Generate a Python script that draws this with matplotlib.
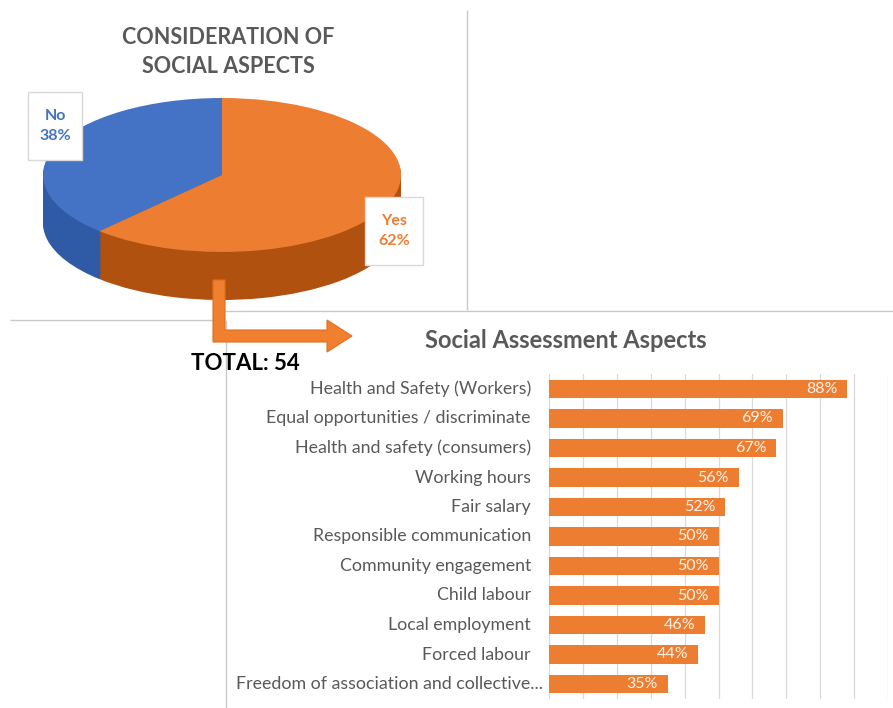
import matplotlib
matplotlib.use("Agg")
import matplotlib.pyplot as plt
from matplotlib.patches import Polygon, Rectangle
import numpy as np

plt.rcParams['font.family'] = ['Lato', 'DejaVu Sans']

# ---------------- data ----------------
pie_title = "CONSIDERATION OF\nSOCIAL ASPECTS"
pie_labels = ["No", "Yes"]
pie_values = [38, 62]
total_label = "TOTAL: 54"

bar_title = "Social Assessment Aspects"
bar_categories = [
    "Health and Safety (Workers)",
    "Equal opportunities / discriminate",
    "Health and safety (consumers)",
    "Working hours",
    "Fair salary",
    "Responsible communication",
    "Community engagement",
    "Child labour",
    "Local employment",
    "Forced labour",
    "Freedom of association and collective...",
]
bar_values = [88, 69, 67, 56, 52, 50, 50, 50, 46, 44, 35]

# ---------------- style ----------------
W, H = 893, 708
ORANGE = "#ED7D31"
BLUE = "#4472C4"
ORANGE_SIDE = "#B0510F"
BLUE_SIDE = "#2F5AA6"
GRAY_TXT = "#595959"
BORDER = "#C9C9C9"

fig = plt.figure(figsize=(W / 100, H / 100), dpi=100)


def fig_rect(left_px, top_px, width_px, height_px):
    return [left_px / W, 1 - (top_px + height_px) / H, width_px / W, height_px / H]


# background overlay (panel borders)
back = fig.add_axes([0, 0, 1, 1], zorder=0)
back.set_xlim(0, W)
back.set_ylim(H, 0)
back.axis('off')
for (x0, y0, x1, y1) in [(467, 10, 467, 310), (225, 311, 893, 311),
                         (10, 320, 213, 320), (226, 320, 226, 708)]:
    back.plot([x0, x1], [y0, y1], color=BORDER, lw=1.0, solid_capstyle='butt')

# ---------------- 3D-like pie ----------------
a_px, b_px = 179, 77
cx, cy = 222, 175
depth_px = 48
d = depth_px / b_px
xl = (-1.2, 1.2)
yl = (-1.0 - d - 0.15, 1.15)
left_px = cx + xl[0] * a_px
width_px = (xl[1] - xl[0]) * a_px
top_px = cy - yl[1] * b_px
height_px = (yl[1] - yl[0]) * b_px
axp = fig.add_axes(fig_rect(left_px, top_px, width_px, height_px), zorder=2)

N = 40
for k in range(N, 0, -1):
    s = d * k / N
    axp.pie(pie_values, colors=[BLUE_SIDE, ORANGE_SIDE], startangle=90,
            counterclock=True, center=(0, -s),
            wedgeprops=dict(linewidth=0))
axp.pie(pie_values, colors=[BLUE, ORANGE], startangle=90, counterclock=True,
        center=(0, 0), wedgeprops=dict(linewidth=0))
axp.set_aspect('auto')
axp.set_xlim(xl)
axp.set_ylim(yl)
axp.axis('off')

# ---------------- front overlay (titles, labels, arrow) ----------------
front = fig.add_axes([0, 0, 1, 1], zorder=5)
front.set_xlim(0, W)
front.set_ylim(H, 0)
front.axis('off')

front.text(228, 52, pie_title, ha='center', va='center', fontsize=15.5,
           fontweight='bold', color=GRAY_TXT, linespacing=1.45)

label_boxes = [(28, 92, 54, 68, BLUE), (365, 197, 58, 68, ORANGE)]
for (bx, by, bw, bh, col), lab, val in zip(label_boxes, pie_labels, pie_values):
    front.add_patch(Rectangle((bx, by), bw, bh, facecolor='white',
                              edgecolor='#D9D9D9', lw=1.0))
    front.text(bx + bw / 2, by + bh / 2, f"{lab}\n{val}%", ha='center',
               va='center', fontsize=11.5, fontweight='bold', color=col,
               linespacing=1.5)

arrow_pts = [(213, 280), (225, 280), (225, 330), (327, 330), (327, 320),
             (352, 336), (327, 352), (327, 342), (213, 342)]
front.add_patch(Polygon(arrow_pts, closed=True, facecolor="#F0802F",
                        edgecolor="#E06E1E", lw=0.8))

front.text(191, 364, total_label, ha='left', va='center', fontsize=16,
           fontweight='bold', color='black')

front.text(566, 340, bar_title, ha='center', va='center', fontsize=17,
           fontweight='bold', color=GRAY_TXT)

# ---------------- bar chart ----------------
ax_l, ax_r = 549, 888
row = 29.5
first_c = 389
n = len(bar_values)
ax_top = first_c - row / 2
ax_h = row * n
axb = fig.add_axes(fig_rect(ax_l, ax_top, ax_r - ax_l, ax_h), zorder=3)
axb.patch.set_alpha(0)
y = np.arange(n)
axb.barh(y, bar_values, height=0.63, color=ORANGE, zorder=3)
axb.set_xlim(0, 100)
axb.set_ylim(n - 0.5, -0.5)
axb.set_xticks(np.arange(0, 101, 10))
axb.set_yticks([])
axb.grid(axis='x', color='#D9D9D9', lw=0.9)
axb.set_axisbelow(True)
axb.tick_params(left=False, bottom=False, labelbottom=False, labelleft=False)
for sp in axb.spines.values():
    sp.set_visible(False)

for i, (cat, v) in enumerate(zip(bar_categories, bar_values)):
    off_px = 6 if cat.endswith('...') else 18
    axb.text(-off_px / (ax_r - ax_l), i, cat, transform=axb.get_yaxis_transform(),
             ha='right', va='center', fontsize=12.8, color=GRAY_TXT)
    axb.annotate(f"{v}%", (v, i), xytext=(-7, 0), textcoords='offset points',
                 ha='right', va='center', fontsize=11.5, color='#FFF3EA', zorder=4)

fig.savefig("out.png", dpi=100)
